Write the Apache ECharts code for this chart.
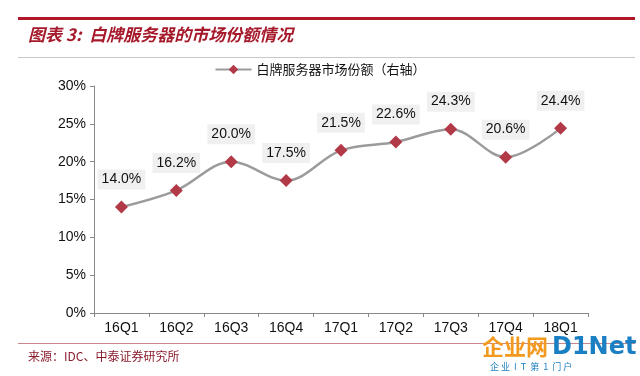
<!DOCTYPE html>
<html>
<head>
<meta charset="utf-8">
<script src="https://cdn.jsdelivr.net/npm/echarts@6/dist/echarts.min.js"></script>
<style>
  html, body { margin: 0; padding: 0; background: #fff; }
  #chart { width: 640px; height: 376px; }
</style>
</head>
<body>
<div id="chart"></div>
<script>
// 白牌服务器市场份额
var categories = ["16Q1", "16Q2", "16Q3", "16Q4", "17Q1", "17Q2", "17Q3", "17Q4", "18Q1"];
var shareValues = [14.0, 16.2, 20.0, 17.5, 21.5, 22.6, 24.3, 20.6, 24.4];
var seriesName = "白牌服务器市场份额（右轴）";

var chart = echarts.init(document.getElementById("chart"));

var option = {
  backgroundColor: "#fff",
  animation: false,
  graphic: [
    { type: "rect", left: 18, top: 17, shape: { width: 617, height: 3 }, style: { fill: "#B0182A" } },
    {
      type: "text", left: 28, top: 26,
      style: {
        text: "图表 3:  白牌服务器的市场份额情况",
        font: "italic bold 17px 'Noto Sans CJK SC'",
        fill: "#A5192B"
      }
    },
    { type: "rect", left: 18, top: 57, shape: { width: 617, height: 1 }, style: { fill: "#c8c8c8" } },
    { type: "rect", left: 18, top: 343, shape: { width: 617, height: 1 }, style: { fill: "#C9868C" } },
    {
      type: "text", left: 28, top: 350,
      style: {
        text: "来源：IDC、中泰证券研究所",
        font: "12px 'Noto Sans CJK SC'",
        fill: "#8B1E2D"
      }
    },
    {
      type: "text", left: 482, top: 336,
      style: { text: "企业网", font: "bold 22px 'Noto Sans CJK SC'", fill: "#F39A1E" }
    },
    {
      type: "text", left: 552, top: 336,
      style: { text: "D1Net", font: "bold 24px 'DejaVu Sans'", fill: "#1B7FC4" }
    },
    {
      type: "text", left: 490, top: 362,
      style: { text: "企 业  I  T  第  1  门 户", font: "9px 'Noto Sans CJK SC'", fill: "#1B7FC4" }
    }
  ],
  legend: {
    top: 58,
    left: "center",
    itemWidth: 36,
    itemHeight: 12,
    itemGap: 6,
    textStyle: { fontFamily: "Noto Sans CJK SC", fontSize: 13, color: "#111" },
    data: [seriesName]
  },
  grid: {
    left: 94,
    right: 52,
    top: 86,
    bottom: 63
  },
  xAxis: {
    type: "category",
    data: categories,
    boundaryGap: true,
    axisLine: { lineStyle: { color: "#888", width: 1 } },
    axisTick: { show: true, length: 4, inside: false, lineStyle: { color: "#888" } },
    axisLabel: { color: "#111", fontFamily: "Liberation Sans", fontSize: 14, margin: 8 }
  },
  yAxis: {
    type: "value",
    min: 0,
    max: 30,
    interval: 5,
    axisLine: { show: true, lineStyle: { color: "#888" } },
    axisTick: { show: true, length: 4, lineStyle: { color: "#888" } },
    splitLine: { show: false },
    axisLabel: {
      color: "#111",
      fontFamily: "Liberation Sans",
      fontSize: 14,
      formatter: "{value}%"
    }
  },
  series: [
    {
      name: seriesName,
      type: "line",
      smooth: 0.35,
      data: shareValues,
      symbol: "diamond",
      symbolSize: 13,
      lineStyle: { color: "#9b9b9b", width: 2.5 },
      itemStyle: { color: "#B23A48" },
      label: {
        show: true,
        position: "top",
        distance: 11,
        formatter: function (p) { return p.value.toFixed(1) + "%"; },
        color: "#111",
        fontFamily: "Liberation Sans",
        fontSize: 14,
        backgroundColor: "#f0f0f0",
        padding: [3, 4]
      }
    }
  ]
};

chart.setOption(option);
</script>
</body>
</html>
